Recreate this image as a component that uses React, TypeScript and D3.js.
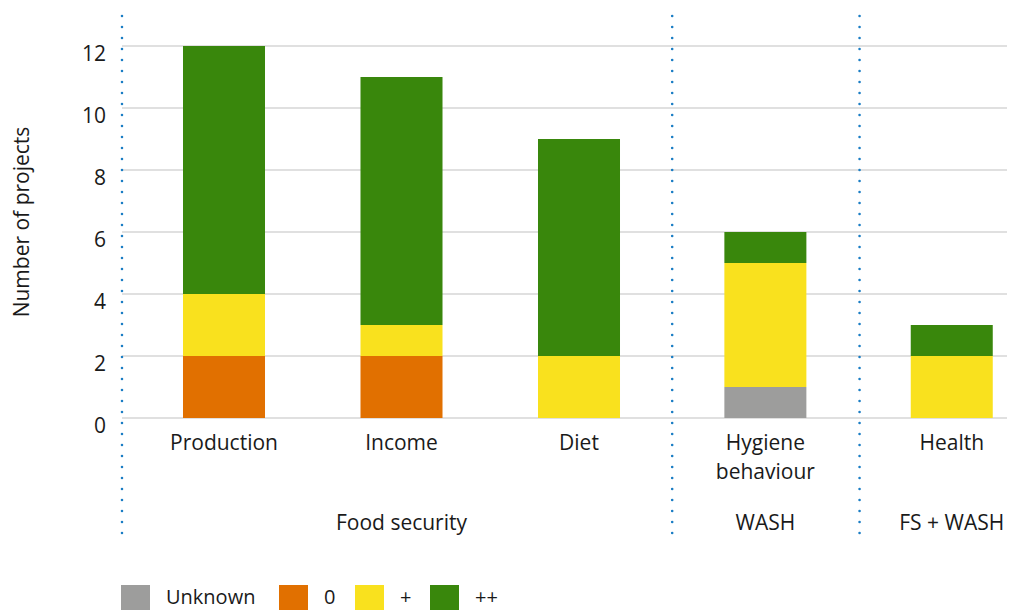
import { useEffect, useRef } from 'react';
import * as d3 from 'd3';

// categories and the group each belongs to
const categories = ['Production', 'Income', 'Diet', 'Hygiene\nbehaviour', 'Health'];
const categoryGroup = [0, 0, 0, 1, 2];
const groups = ['Food security', 'WASH', 'FS + WASH'];

// series values (number of projects)
const seriesNames = ['Unknown', '0', '+', '++'];
const unknownVals = [0, 0, 0, 1, 0];
const zeroVals = [2, 2, 0, 0, 0];
const plusVals = [2, 1, 2, 4, 2];
const plusPlusVals = [8, 8, 7, 1, 1];
const seriesColors = ['#9d9d9c', '#e17000', '#f9e11e', '#39870c'];

const yTicks = [0, 2, 4, 6, 8, 10, 12];

const W = 1009;
const H = 610;
const FONT = "'Open Sans', 'Noto Sans', sans-serif";

const App = () => {
  const svgRef = useRef<SVGSVGElement>(null);

  useEffect(() => {
    if (!svgRef.current) return;
    const svg = d3.select(svgRef.current);
    svg.selectAll('*').remove();

    const left = 122;
    const groupGap = 0.05;

    // index-based x scale; each group boundary adds a small gap
    const x = d3.scaleLinear().domain([0, 1]).range([224, 401.5]);
    const pos = (i: number) => x(i + categoryGroup[i] * groupGap);
    const barW = (x(1) - x(0)) * 0.462;

    const y = d3.scaleLinear().domain([0, 12]).range([418, 46]);

    // grid lines
    svg.append('g')
      .selectAll('line')
      .data(yTicks)
      .enter()
      .append('line')
      .attr('x1', left)
      .attr('x2', 1007)
      .attr('y1', d => y(d))
      .attr('y2', d => y(d))
      .attr('stroke', '#d6d6d6')
      .attr('stroke-width', 1.5);

    // y tick labels
    svg.append('g')
      .selectAll('text')
      .data(yTicks)
      .enter()
      .append('text')
      .attr('x', 106)
      .attr('y', d => y(d) + 15)
      .attr('text-anchor', 'end')
      .attr('font-family', FONT)
      .attr('font-size', 21)
      .attr('fill', '#1a1a1a')
      .text(d => d);

    // y axis title
    svg.append('text')
      .attr('transform', `translate(29,${y(6) - 10}) rotate(-90)`)
      .attr('text-anchor', 'middle')
      .attr('font-family', FONT)
      .attr('font-size', 21)
      .attr('fill', '#1a1a1a')
      .text('Number of projects');

    // stacked bars
    const table = categories.map((c, i) => ({
      cat: c,
      i,
      Unknown: unknownVals[i],
      '0': zeroVals[i],
      '+': plusVals[i],
      '++': plusPlusVals[i],
    }));
    const stacked = d3.stack<any>().keys(seriesNames)(table);

    stacked.forEach((layer, k) => {
      svg.append('g')
        .selectAll('rect')
        .data(layer.filter(d => d[1] > d[0]))
        .enter()
        .append('rect')
        .attr('x', d => pos(d.data.i) - barW / 2)
        .attr('width', barW)
        .attr('y', d => y(d[1]))
        .attr('height', d => y(d[0]) - y(d[1]))
        .attr('fill', seriesColors[k]);
    });

    // separators (dotted)
    const seps = [left, (pos(2) + pos(3)) / 2, (pos(3) + pos(4)) / 2 + 1];
    svg.append('g')
      .selectAll('line')
      .data(seps)
      .enter()
      .append('line')
      .attr('x1', d => d)
      .attr('x2', d => d)
      .attr('y1', 16)
      .attr('y2', 538)
      .attr('stroke', '#1a7dc4')
      .attr('stroke-width', 2.6)
      .attr('stroke-linecap', 'round')
      .attr('stroke-dasharray', '0 11');

    // category labels
    const catLabels = svg.append('g')
      .selectAll('text')
      .data(categories)
      .enter()
      .append('text')
      .attr('text-anchor', 'middle')
      .attr('font-family', FONT)
      .attr('font-size', 21)
      .attr('fill', '#1a1a1a');
    catLabels.each(function (d, i) {
      const t = d3.select(this);
      d.split('\n').forEach((line, j) => {
        t.append('tspan')
          .attr('x', pos(i))
          .attr('y', 450 + j * 29)
          .text(line);
      });
    });

    // group labels
    const groupCenter = (g: number) => {
      const idx = categories.map((_, i) => i).filter(i => categoryGroup[i] === g);
      return d3.mean(idx, i => pos(i)) as number;
    };
    svg.append('g')
      .selectAll('text')
      .data(groups)
      .enter()
      .append('text')
      .attr('x', (d, g) => groupCenter(g))
      .attr('y', 530)
      .attr('text-anchor', 'middle')
      .attr('font-family', FONT)
      .attr('font-size', 21)
      .attr('fill', '#1a1a1a')
      .text(d => d);

    // legend
    const legendX = [121, 279, 355, 430];
    const legend = svg.append('g')
      .selectAll('g')
      .data(seriesNames)
      .enter()
      .append('g')
      .attr('transform', (d, k) => `translate(${legendX[k]},585)`);
    legend.append('rect')
      .attr('width', 29)
      .attr('height', 29)
      .attr('fill', (d, k) => seriesColors[k]);
    legend.append('text')
      .attr('x', 45)
      .attr('y', 19)
      .attr('font-family', FONT)
      .attr('font-size', 20)
      .attr('fill', '#1a1a1a')
      .text(d => d);
  }, []);

  return (
    <svg
      ref={svgRef}
      width={W}
      height={H}
      style={{ position: 'absolute', left: 0, top: 0, background: '#fff' }}
    />
  );
};

export default App;
